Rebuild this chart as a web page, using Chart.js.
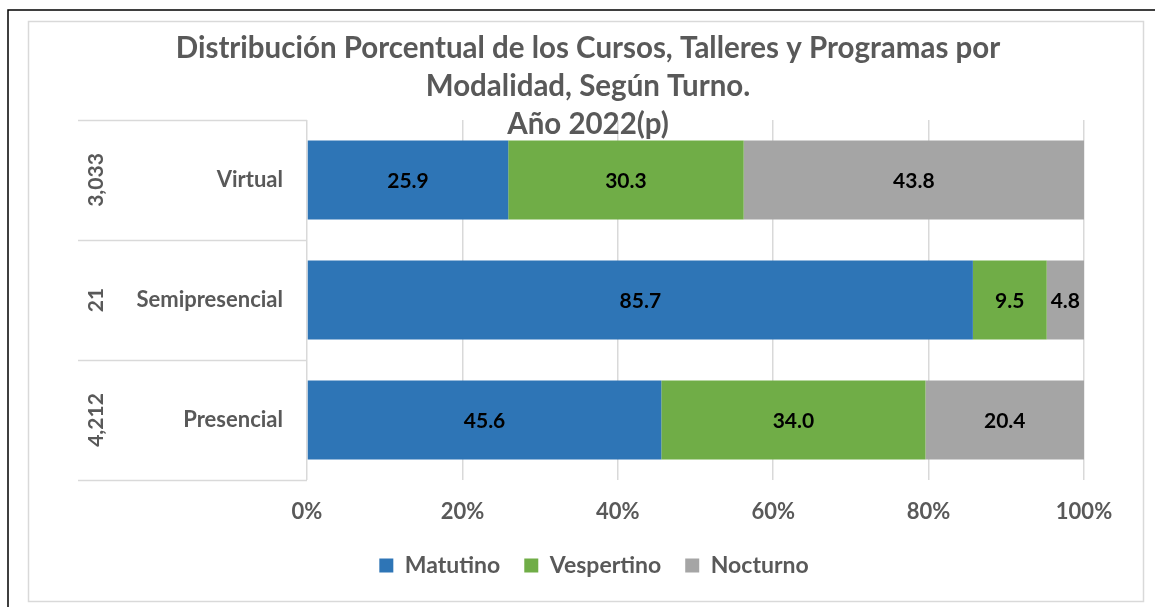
<!DOCTYPE html>
<html>
<head>
<meta charset="utf-8">
<script src="https://cdn.jsdelivr.net/npm/chart.js@4.4.0/dist/chart.umd.min.js"></script>
<style>
  html, body { margin: 0; padding: 0; background: #fff; }
</style>
</head>
<body>
<canvas id="grafico-turnos" width="1155" height="607"></canvas>
<script>
// Datos
const modalidades = ["Virtual", "Semipresencial", "Presencial"];
const totales = ["3,033", "21", "4,212"];
const turnos = ["Matutino", "Vespertino", "Nocturno"];
const matutino = [25.9, 85.7, 45.6];
const vespertino = [30.3, 9.5, 34.0];
const nocturno = [43.8, 4.8, 20.4];
const colores = ["#2E75B6", "#70AD47", "#A5A5A5"];
const tituloLineas = [
    "Distribución Porcentual de los Cursos, Talleres y Programas por",
    "Modalidad, Según Turno.",
    "Año 2022(p)"
];

const gris = "#595959";
const fuente = "Lato";

// Marco exterior e interior
const marco = {
    id: "marco",
    beforeDraw(chart) {
        const ctx = chart.ctx;
        ctx.save();
        ctx.fillStyle = "#fff";
        ctx.fillRect(0, 0, chart.width, chart.height);
        ctx.strokeStyle = "#000";
        ctx.lineWidth = 1.5;
        ctx.beginPath();
        ctx.moveTo(8, chart.height);
        ctx.lineTo(8, 10);
        ctx.lineTo(chart.width, 10);
        ctx.stroke();
        ctx.strokeStyle = "#d9d9d9";
        ctx.lineWidth = 1.5;
        ctx.strokeRect(28.5, 21.5, 1115, 580);
        ctx.restore();
    }
};

// Titulo en tres lineas (la ultima se monta sobre el area del grafico)
const titulo = {
    id: "titulo",
    afterDraw(chart) {
        const ctx = chart.ctx;
        ctx.save();
        ctx.fillStyle = gris;
        ctx.font = "bold 29.5px " + fuente;
        ctx.textAlign = "center";
        ctx.textBaseline = "middle";
        const ys = [48, 86, 124];
        tituloLineas.forEach((linea, i) => ctx.fillText(linea, 588, ys[i]));
        ctx.restore();
    }
};

// la leyenda de Excel queda un poco a la derecha
const moverLeyenda = {
    id: "moverLeyenda",
    afterLayout(chart) {
        chart.legend.left += 13;
        chart.legend.right += 13;
    }
};

// Separadores del eje y y totales rotados
const ejeDoble = {
    id: "ejeDoble",
    afterDraw(chart) {
        const ctx = chart.ctx;
        const y = chart.scales.y;
        const area = chart.chartArea;
        const banda = (y.bottom - y.top) / modalidades.length;
        ctx.save();
        ctx.strokeStyle = "#d9d9d9";
        ctx.lineWidth = 1.5;
        for (let k = 0; k <= modalidades.length; k++) {
            const py = Math.round(y.top + k * banda) + 0.5;
            ctx.beginPath();
            ctx.moveTo(78, py);
            ctx.lineTo(area.left, py);
            ctx.stroke();
        }
        ctx.fillStyle = gris;
        ctx.font = "bold 21px " + fuente;
        ctx.textAlign = "center";
        ctx.textBaseline = "middle";
        totales.forEach((t, i) => {
            const py = y.getPixelForValue(i);
            ctx.save();
            ctx.translate(96, py);
            ctx.rotate(-Math.PI / 2);
            ctx.fillText(t, 0, 0);
            ctx.restore();
        });
        ctx.restore();
    }
};

// Etiquetas de valor dentro de cada segmento
const etiquetas = {
    id: "etiquetas",
    afterDatasetsDraw(chart) {
        const ctx = chart.ctx;
        ctx.save();
        ctx.fillStyle = "#000";
        ctx.font = "bold 21px " + fuente;
        ctx.textAlign = "center";
        ctx.textBaseline = "middle";
        chart.data.datasets.forEach((ds, i) => {
            const meta = chart.getDatasetMeta(i);
            meta.data.forEach((barra, j) => {
                const cx = (barra.x + barra.base) / 2;
                ctx.fillText(ds.data[j].toFixed(1), cx, barra.y + 1);
            });
        });
        ctx.restore();
    }
};

const datasets = [matutino, vespertino, nocturno].map((serie, i) => ({
    label: turnos[i],
    data: serie,
    backgroundColor: colores[i],
    borderWidth: 0,
    barPercentage: 0.66,
    categoryPercentage: 1
}));

const ctx = document.getElementById("grafico-turnos").getContext("2d");
new Chart(ctx, {
    type: "bar",
    data: { labels: modalidades, datasets: datasets },
    options: {
        indexAxis: "y",
        responsive: false,
        animation: false,
        layout: { padding: { left: 78, right: 71, top: 120, bottom: 20 } },
        plugins: {
            title: { display: false },
            tooltip: { enabled: false },
            legend: {
                position: "bottom",
                labels: {
                    boxWidth: 14,
                    boxHeight: 14,
                    padding: 24,
                    color: gris,
                    font: { family: fuente, size: 23, weight: "bold" }
                }
            }
        },
        scales: {
            x: {
                stacked: true,
                min: 0,
                max: 100,
                ticks: {
                    stepSize: 20,
                    padding: 19,
                    color: gris,
                    font: { family: fuente, size: 22, weight: "bold" },
                    callback: v => v + "%"
                },
                grid: { color: "#d9d9d9", lineWidth: 1.5, drawTicks: false },
                border: { display: false },
                afterFit: s => { s.height = 50; }
            },
            y: {
                stacked: true,
                ticks: {
                    padding: 24,
                    color: gris,
                    font: { family: fuente, size: 22, weight: "bold" }
                },
                grid: { display: false, drawTicks: false },
                border: { display: false },
                afterFit: s => { s.width = 229; }
            }
        }
    },
    plugins: [marco, moverLeyenda, ejeDoble, etiquetas, titulo]
});
</script>
</body>
</html>
